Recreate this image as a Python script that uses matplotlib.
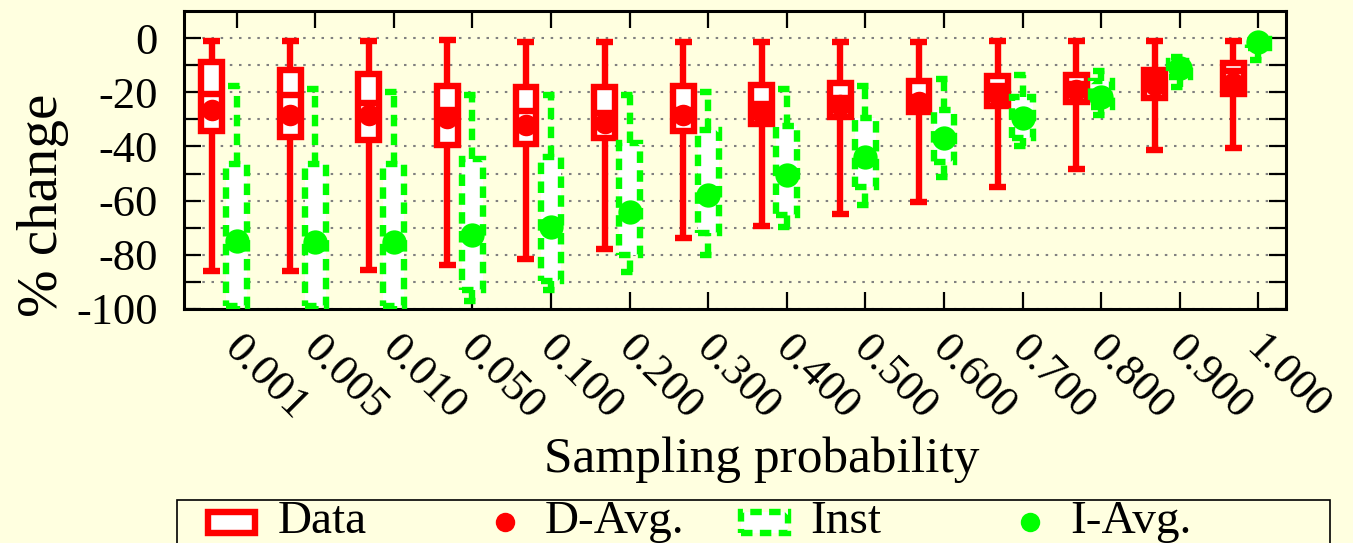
import matplotlib
matplotlib.use("Agg")
import matplotlib.pyplot as plt
from matplotlib.patches import Rectangle
from matplotlib.lines import Line2D
from matplotlib.transforms import ScaledTranslation
import numpy as np

plt.rcParams['font.family'] = ['Liberation Serif', 'DejaVu Serif']

probs = ['0.001', '0.005', '0.010', '0.050', '0.100', '0.200', '0.300',
         '0.400', '0.500', '0.600', '0.700', '0.800', '0.900', '1.000']

# Data (red) distribution
data_max = [-1, -1, -1, -0.6, -1.5, -1.5, -1.5, -1.5, -1.5, -1.4, -1.2, -1.2, -1, -1]
data_q3 = [-9, -11.7, -13.2, -17.5, -18.1, -17.9, -17.5, -17.3, -16.7, -15.7, -14, -13.8, -11.7, -9.3]
data_med = [-20.5, -21, -24, -26.5, -26.8, -27.5, -26.5, -24.3, -22.2, -21.6, -17.5, -17, -14, -12]
data_q1 = [-34.3, -36.4, -37.7, -39.5, -39.1, -37, -34.2, -31.7, -29, -27.2, -25, -23.5, -22.2, -20.7]
data_min = [-86, -86, -85.5, -83.7, -81.6, -77.8, -73.7, -69.5, -65, -60.5, -55, -48.5, -41.4, -40.4]
data_avg = [-26.5, -28.4, -28.4, -29.6, -32, -31.5, -28.4, -27.8, -24.7, -23.5, -21, -19, -17.3, -16.7]

# Inst (green) distribution
inst_max = [-17.6, -18.9, -19.8, -21, -21, -21, -19.8, -18.9, -17.6, -15.2, -13.6, -12.3, -6.8, 0]
inst_q3 = [-46.3, -46.3, -46.3, -44.8, -43.8, -38.9, -34, -32.3, -29.6, -26.5, -21.6, -16, -8.6, -0.5]
inst_q1 = [-99, -99, -99, -93, -89.5, -80, -72, -65.4, -55, -45.7, -37, -25.3, -14.2, -3.7]
inst_min = [-100, -100, -100, -97, -93, -86.4, -80.2, -69.8, -61.7, -51.2, -40, -28.4, -17.9, -8]
inst_avg = [-75, -75.3, -75.3, -72.8, -69.8, -64.2, -57.8, -50.6, -43.8, -37, -29.6, -21.6, -11.1, -1.6]

yticks = list(range(-100, 10, 10))

RED = '#ff0000'
GREEN = '#00ff00'
BG = '#ffffe0'
W, H = 1353, 543

fig = plt.figure(figsize=(W / 100, H / 100), dpi=100, facecolor=BG)
ax = fig.add_axes([184 / W, 1 - 309 / H, (1286 - 184) / W, (309 - 11) / H])
ax.set_facecolor(BG)

x = np.arange(1, len(probs) + 1)
xr = x - 0.32
bw = 0.265
cap = 0.108
lw = 4.6
dash = (0, (1.8, 1.15))

# grid
for yv in yticks:
    ax.axhline(yv, color='#808080', lw=1.5, ls=(0, (1.2, 3.2)), zorder=0.5)

# red data boxes
ax.vlines(xr, data_q3, data_max, color=RED, lw=lw, zorder=1.9)
ax.vlines(xr, data_min, data_q1, color=RED, lw=lw, zorder=1.9)
ax.hlines(data_max, xr - cap, xr + cap, color=RED, lw=lw, zorder=1.9)
ax.hlines(data_min, xr - cap, xr + cap, color=RED, lw=lw, zorder=1.9)
ax.bar(xr, np.array(data_q3) - np.array(data_q1), bottom=data_q1, width=bw,
       facecolor='white', edgecolor=RED, linewidth=lw, zorder=2)
ax.hlines(data_med, xr - bw / 2, xr + bw / 2, color=RED, lw=lw, zorder=2.1)
ax.plot(xr, data_avg, 'o', color=RED, ms=15.5, mec='none', zorder=2.2)

# green inst boxes
ax.vlines(x, inst_q3, inst_max, color=GREEN, lw=lw, ls=dash, zorder=3)
ax.vlines(x, inst_min, inst_q1, color=GREEN, lw=lw, ls=dash, zorder=3)
ax.hlines(inst_max, x - cap, x + cap, color=GREEN, lw=lw, ls=dash, zorder=3)
ax.hlines(inst_min, x - cap, x + cap, color=GREEN, lw=lw, ls=dash, zorder=3)
ax.bar(x, np.array(inst_q3) - np.array(inst_q1), bottom=inst_q1, width=bw,
       facecolor='white', edgecolor=GREEN, linewidth=lw, linestyle=dash, zorder=3.1)
ax.plot(x, inst_avg, 'o', color=GREEN, ms=17.5, mec='none', zorder=3.2)

ax.set_xlim(0.33, 14.35)
ax.set_ylim(-100, 10)
ax.set_yticks(yticks)
ax.set_yticklabels([str(v) if v % 20 == 0 else '' for v in yticks])
ax.set_xticks(x)
ax.set_xticklabels(probs, rotation=-45, ha='left', va='top', rotation_mode='anchor')
ax.tick_params(axis='both', direction='in', length=12, width=1.6, labelsize=32,
               top=True, right=True)
ax.tick_params(axis='y', pad=19)
ax.tick_params(axis='x', pad=14)
shift = ScaledTranslation(8 / 100, 0, fig.dpi_scale_trans)
for lab in ax.get_xticklabels():
    lab.set_transform(lab.get_transform() + shift)
for s in ax.spines.values():
    s.set_linewidth(2.2)

fig.text(43 / W, 1 - 205 / H, '% change', rotation=90, ha='center', va='center', fontsize=41)
fig.text(762 / W, 1 - 460 / H, 'Sampling probability', ha='center', va='center', fontsize=37)

# legend (manual)
fig.add_artist(Rectangle((177 / W, -0.05), (1330 - 177) / W, 0.05 + 1 - 500 / H,
                         transform=fig.transFigure, facecolor='none', edgecolor='black',
                         lw=1.2))
ly = 1 - 522 / H
fig.add_artist(Rectangle((208 / W, 1 - 533 / H), 47 / W, 21 / H, transform=fig.transFigure,
                         facecolor='white', edgecolor=RED, lw=lw))
fig.add_artist(Rectangle((741 / W, 1 - 533 / H), 47 / W, 21 / H, transform=fig.transFigure,
                         facecolor='white', edgecolor=GREEN, lw=lw, ls=dash))
fig.add_artist(Line2D([505 / W], [ly], transform=fig.transFigure, marker='o', color=RED,
                      ms=14, mec='none', ls='none'))
fig.add_artist(Line2D([1030 / W], [ly], transform=fig.transFigure, marker='o', color=GREEN,
                      ms=14, mec='none', ls='none'))
for tx, lab in [(278, 'Data'), (545, 'D-Avg.'), (810, 'Inst'), (1070, 'I-Avg.')]:
    fig.text(tx / W, ly, lab, ha='left', va='center', fontsize=34)

fig.savefig('out.png', dpi=100, facecolor=BG)
